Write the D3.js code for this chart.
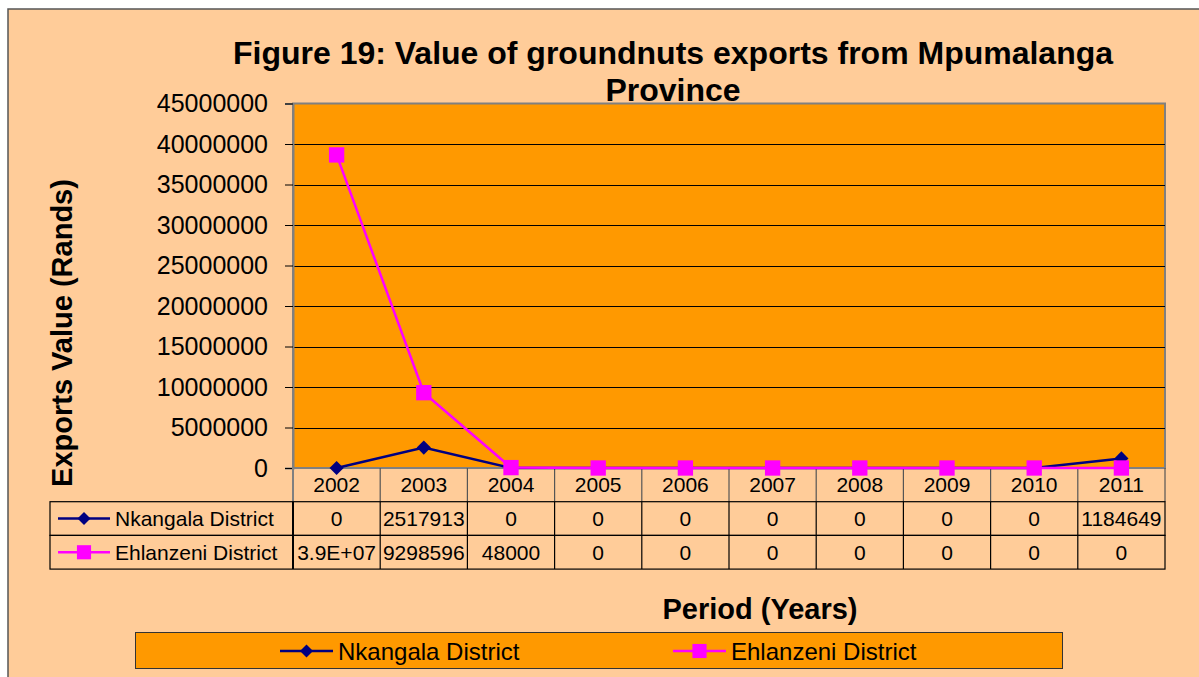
<!DOCTYPE html>
<html>
<head>
<meta charset="utf-8">
<script src="https://cdn.jsdelivr.net/npm/d3@7"></script>
<style>
  html, body { margin: 0; padding: 0; background: #fff; }
  svg { display: block; font-family: 'Liberation Sans', Arial, sans-serif; }
</style>
</head>
<body>
<div id="svg-container"></div>
<script>
const years = ['2002', '2003', '2004', '2005', '2006', '2007', '2008', '2009', '2010', '2011']
const nkangala = [0, 2517913, 0, 0, 0, 0, 0, 0, 0, 1184649]
const ehlanzeni = [38650000, 9298596, 48000, 0, 0, 0, 0, 0, 0, 0]
const nkangalaLabels = ['0', '2517913', '0', '0', '0', '0', '0', '0', '0', '1184649']
const ehlanzeniLabels = ['3.9E+07', '9298596', '48000', '0', '0', '0', '0', '0', '0', '0']
const yTicks = [0, 5000000, 10000000, 15000000, 20000000, 25000000, 30000000, 35000000, 40000000, 45000000]

const series = [
  { name: 'Nkangala District', values: nkangala, labels: nkangalaLabels, color: '#000080', rotate: 45, size: 100 },
  { name: 'Ehlanzeni District', values: ehlanzeni, labels: ehlanzeniLabels, color: '#FF00FF', rotate: 0, size: 235 },
]

const width = 1199
const height = 677
const plot = { left: 293, right: 1165, top: 103.5, bottom: 468 }
const rowH = 33.7

const svg = d3.select('#svg-container').append('svg')
  .attr('width', width).attr('height', height)

// chart area
svg.append('rect')
  .attr('x', 8).attr('y', 9).attr('width', 1220).attr('height', 700)
  .attr('fill', '#FFCC99').attr('stroke', '#555').attr('stroke-width', 1.5)

const x = d3.scaleBand().domain(years).range([plot.left, plot.right])
const y = d3.scaleLinear().domain([0, 45000000]).range([plot.bottom, plot.top])

// plot area
svg.append('rect')
  .attr('x', plot.left).attr('y', plot.top)
  .attr('width', plot.right - plot.left).attr('height', plot.bottom - plot.top)
  .attr('fill', '#FF9900').attr('stroke', '#808080').attr('stroke-width', 2)

// gridlines
svg.append('g').selectAll('line')
  .data(yTicks.filter(d => d > 0 && d < 45000000))
  .join('line')
  .attr('x1', plot.left).attr('x2', plot.right)
  .attr('y1', d => Math.round(y(d)) + 0.5).attr('y2', d => Math.round(y(d)) + 0.5)
  .attr('stroke', '#000').attr('stroke-width', 1)

// y axis
const yAxis = d3.axisLeft(y).tickValues(yTicks).tickSize(8).tickPadding(17).tickFormat(d3.format('d'))
const yg = svg.append('g').attr('transform', `translate(${plot.left},0)`).call(yAxis)
yg.select('.domain').attr('stroke', '#808080').attr('stroke-width', 2)
yg.selectAll('.tick line').attr('stroke', '#000')
yg.selectAll('.tick text').attr('font-size', 25).attr('fill', '#000')
  .attr('font-family', "'Liberation Sans', Arial, sans-serif")

const marker = (s, scale = 1) =>
  d3.symbol(d3.symbolSquare, s.size * scale)()

// data table
const table = svg.append('g')
const tableTop = plot.bottom
table.selectAll('line.hdr')
  .data(years.slice(1))
  .join('line')
  .attr('class', 'hdr')
  .attr('x1', d => x(d)).attr('x2', d => x(d))
  .attr('y1', tableTop).attr('y2', tableTop + rowH)
  .attr('stroke', '#555').attr('stroke-width', 1.2)
table.append('line')
  .attr('x1', plot.left).attr('x2', plot.left)
  .attr('y1', tableTop).attr('y2', tableTop + rowH)
  .attr('stroke', '#808080').attr('stroke-width', 2)
table.append('line')
  .attr('x1', plot.right).attr('x2', plot.right)
  .attr('y1', tableTop).attr('y2', tableTop + rowH)
  .attr('stroke', '#555').attr('stroke-width', 1.2)
table.selectAll('text.year')
  .data(years)
  .join('text')
  .attr('class', 'year')
  .attr('x', d => x(d) + x.bandwidth() / 2)
  .attr('y', tableTop + rowH / 2 + 7)
  .attr('text-anchor', 'middle')
  .attr('font-size', 21)
  .text(d => d)

series.forEach((s, i) => {
  const top = tableTop + rowH * (i + 1)
  const row = table.append('g')
  row.append('rect')
    .attr('x', 50).attr('y', top).attr('width', plot.right - 50).attr('height', rowH)
    .attr('fill', 'none').attr('stroke', '#000').attr('stroke-width', 1.2)
  row.selectAll('line.sep')
    .data(years)
    .join('line')
    .attr('class', 'sep')
    .attr('x1', d => x(d)).attr('x2', d => x(d))
    .attr('y1', top).attr('y2', top + rowH)
    .attr('stroke', '#000').attr('stroke-width', d => d === years[0] ? 2 : 1.2)
  row.selectAll('text.val')
    .data(s.labels)
    .join('text')
    .attr('class', 'val')
    .attr('x', (d, j) => x(years[j]) + x.bandwidth() / 2)
    .attr('y', top + rowH / 2 + 7.5)
    .attr('text-anchor', 'middle')
    .attr('font-size', 21)
    .text(d => d)
  const cy = top + rowH / 2
  row.append('line')
    .attr('x1', 58).attr('x2', 110).attr('y1', cy).attr('y2', cy)
    .attr('stroke', s.color).attr('stroke-width', 2.5)
  row.append('path')
    .attr('d', marker(s, 0.85))
    .attr('transform', `translate(84,${cy}) rotate(${s.rotate})`)
    .attr('fill', s.color)
  row.append('text')
    .attr('x', 115).attr('y', cy + 7.5)
    .attr('font-size', 21)
    .text(s.name)
})

// lines & markers
const line = d3.line()
  .x((d, j) => x(years[j]) + x.bandwidth() / 2)
  .y(d => y(d))

const marks = svg.append('g')
series.forEach(s => {
  marks.append('path')
    .attr('d', line(s.values))
    .attr('fill', 'none').attr('stroke', s.color).attr('stroke-width', 2.5)
})
series.forEach(s => {
  marks.append('g').selectAll('path')
    .data(s.values)
    .join('path')
    .attr('d', marker(s))
    .attr('transform', (d, j) => `translate(${x(years[j]) + x.bandwidth() / 2},${y(d)}) rotate(${s.rotate})`)
    .attr('fill', s.color)
})

// title
const title = svg.append('text')
  .attr('text-anchor', 'middle')
  .attr('font-size', 32).attr('font-weight', 'bold')
title.append('tspan').attr('x', 673).attr('y', 64).text('Figure 19: Value of groundnuts exports from Mpumalanga')
title.append('tspan').attr('x', 673).attr('y', 101).text('Province')

// axis titles
svg.append('text')
  .attr('transform', 'translate(72,333) rotate(-90)')
  .attr('text-anchor', 'middle')
  .attr('font-size', 29).attr('font-weight', 'bold')
  .text('Exports Value (Rands)')

svg.append('text')
  .attr('x', 760).attr('y', 619)
  .attr('text-anchor', 'middle')
  .attr('font-size', 29).attr('font-weight', 'bold')
  .text('Period (Years)')

// legend
const legend = svg.append('g')
legend.append('rect')
  .attr('x', 135.5).attr('y', 632.5).attr('width', 927).attr('height', 36)
  .attr('fill', '#FF9900').attr('stroke', '#333').attr('stroke-width', 1)
const legendX = [280, 673]
series.forEach((s, i) => {
  const lx = legendX[i]
  const cy = 651
  legend.append('line')
    .attr('x1', lx).attr('x2', lx + 53).attr('y1', cy).attr('y2', cy)
    .attr('stroke', s.color).attr('stroke-width', 2.5)
  legend.append('path')
    .attr('d', marker(s, 0.85))
    .attr('transform', `translate(${lx + 26.5},${cy}) rotate(${s.rotate})`)
    .attr('fill', s.color)
  legend.append('text')
    .attr('x', lx + 58).attr('y', cy + 9)
    .attr('font-size', 24)
    .text(s.name)
})
</script>
</body>
</html>
